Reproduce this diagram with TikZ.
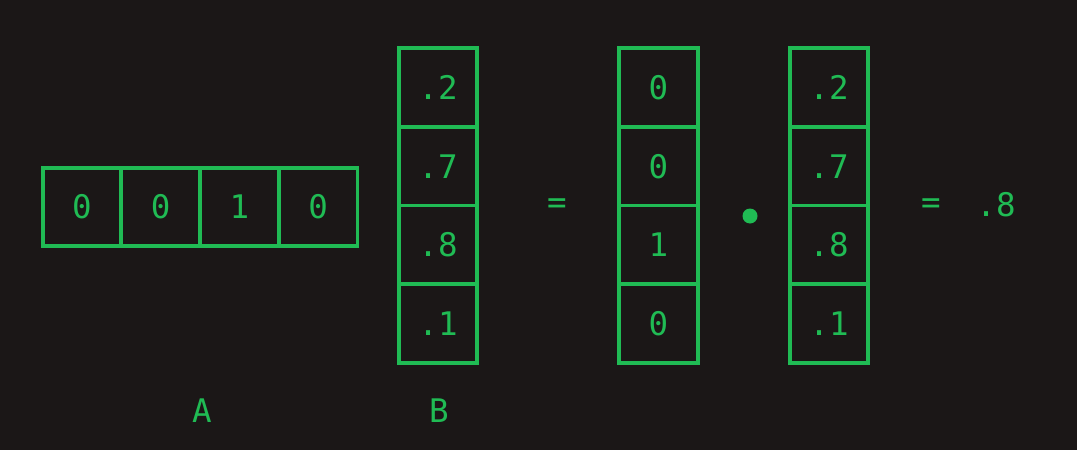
\documentclass[tikz,border=0pt]{standalone}
\usepackage{fontspec}
\setmonofont{DejaVu Sans Mono}
\definecolor{bg}{RGB}{27,23,23}
\definecolor{gr}{RGB}{32,187,84}
\begin{document}
\begin{tikzpicture}[x=1pt,y=-1pt,
  cell/.style={draw=gr, line width=3.8pt, minimum width=78.7pt, minimum height=78.7pt, inner sep=0pt, outer sep=0pt, text=gr, font=\ttfamily\fontsize{32.5}{32.5}\selectfont},
  txt/.style={text=gr, inner sep=0pt, font=\ttfamily\fontsize{32.5}{32.5}\selectfont}]
\fill[bg] (0,0) rectangle (1077,450);
\useasboundingbox (0,0) rectangle (1077,450);
% vector A
\node[cell] (a1) at (82,207) {0};
\node[cell] (a2) at (160.7,207) {0};
\node[cell] (a3) at (239.4,207) {1};
\node[cell] (a4) at (318.1,207) {0};
% column B
\node[cell] (b1) at (438,87.5) {.2};
\node[cell] (b2) at (438,166.2) {.7};
\node[cell] (b3) at (438,244.9) {.8};
\node[cell] (b4) at (438,323.6) {.1};
% column C
\node[cell] (c1) at (658.5,87.5) {0};
\node[cell] (c2) at (658.5,166.2) {0};
\node[cell] (c3) at (658.5,244.9) {1};
\node[cell] (c4) at (658.5,323.6) {0};
% column D
\node[cell] (d1) at (829,87.5) {.2};
\node[cell] (d2) at (829,166.2) {.7};
\node[cell] (d3) at (829,244.9) {.8};
\node[cell] (d4) at (829,323.6) {.1};
% operators
\node[txt] (eq1) at (557,206) {=};
\fill[gr] (750,216) circle (7.5pt);
\node[txt] (eq2) at (931,206) {=};
\node[txt] (res) at (996,205) {.8};
% labels
\node[txt] (la) at (202,411) {A};
\node[txt] (lb) at (439,411) {B};
\end{tikzpicture}
\end{document}
